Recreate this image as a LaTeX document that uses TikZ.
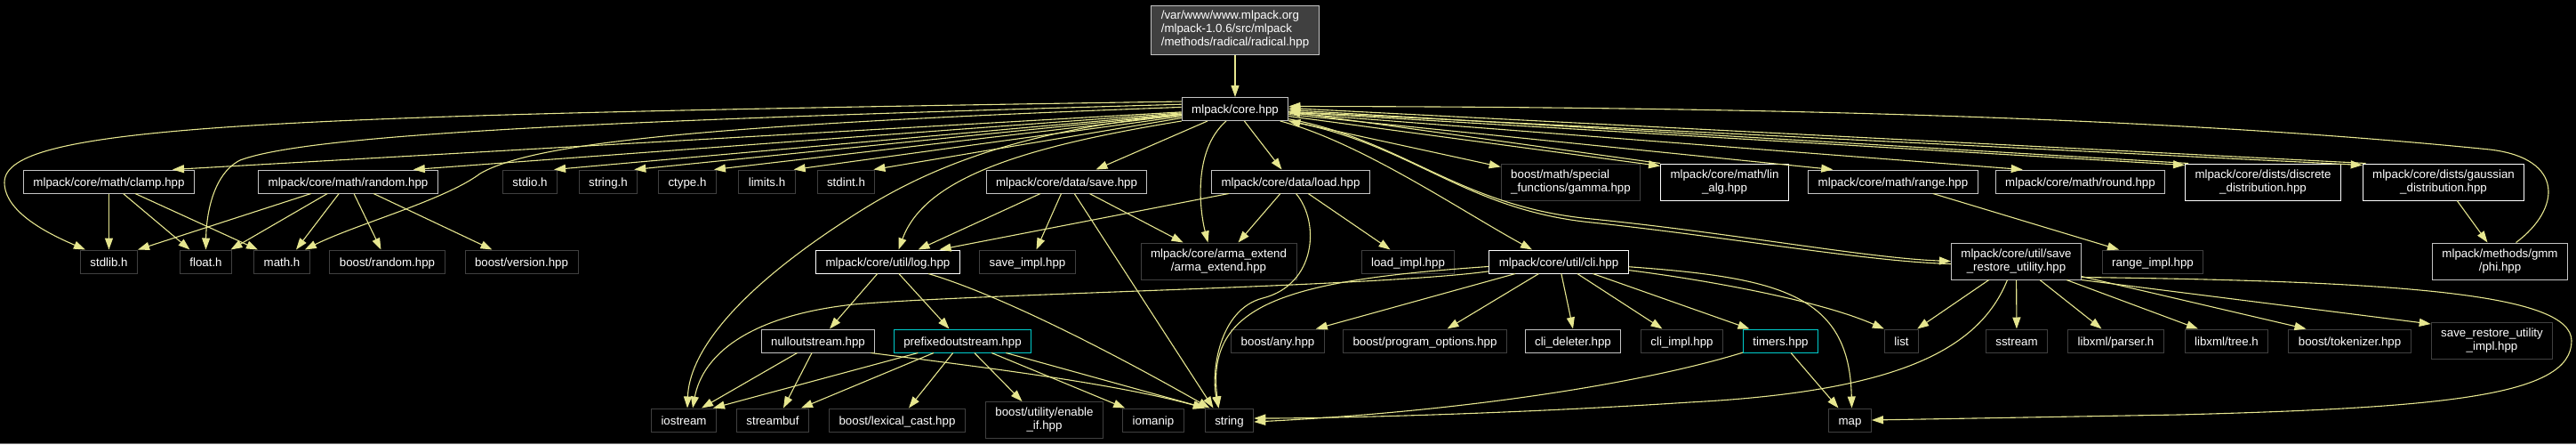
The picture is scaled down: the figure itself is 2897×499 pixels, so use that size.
\documentclass[tikz,border=0pt]{standalone}
\usepackage{fontspec}
\setmainfont{Liberation Sans}
\usepackage{tikz}
\usetikzlibrary{arrows.meta}
\definecolor{edgecol}{RGB}{230,230,143}
\definecolor{extline}{RGB}{64,64,64}
\definecolor{docline}{RGB}{196,196,196}
\definecolor{rootfill}{RGB}{64,64,64}
\definecolor{truncline}{RGB}{0,204,204}
\newcommand{\graphfont}{\fontsize{13.3pt}{15pt}\selectfont}

\begin{document}
\begin{tikzpicture}[
  x=1pt, y=-1pt,
  box/.style={fill=black, text=white, font=\graphfont, inner xsep=11pt, inner ysep=2pt, line width=1pt},
  ext/.style={box, draw=extline, minimum height=26pt, text height=11pt, text depth=1pt},
  doc/.style={ext, draw=docline},
  docw/.style={ext, draw=white},
  cut/.style={ext, draw=truncline},
  ext2/.style={box, draw=extline, align=center, minimum height=41pt},
  doc2/.style={ext2, draw=docline},
  docw2/.style={ext2, draw=white},
  incl/.style={draw=edgecol, line width=1.1pt, -{Triangle[length=13pt,width=9pt]}}
]
\fill[black] (0,0) rectangle (2897,499);
\useasboundingbox (0,0) rectangle (2897,499);
\draw[docline!60!black, line width=1pt] (0,498.5) -- (2897,498.5);

\node[doc2, align=left, fill=rootfill, minimum height=55pt] (root) at (1389,33.5) {/var/www/www.mlpack.org\\/mlpack-1.0.6/src/mlpack\\/methods/radical/radical.hpp};
\node[doc] (core) at (1389,122.5) {mlpack/core.hpp};

\node[doc] (clamp) at (122.5,204) {mlpack/core/math/clamp.hpp};
\node[doc] (random) at (391.5,204) {mlpack/core/math/random.hpp};
\node[ext] (stdio) at (596,204) {stdio.h};
\node[ext] (stringh) at (684,204) {string.h};
\node[ext] (ctype) at (773,204) {ctype.h};
\node[ext] (limits) at (862.5,204) {limits.h};
\node[ext] (stdint) at (951.5,204) {stdint.h};
\node[doc] (save) at (1199.5,204) {mlpack/core/data/save.hpp};
\node[doc] (load) at (1451.5,204) {mlpack/core/data/load.hpp};
\node[ext2, align=left] (gamma) at (1766.5,204.5) {boost/math/special\\\_functions/gamma.hpp};
\node[docw2] (linalg) at (1939.5,204.5) {mlpack/core/math/lin\\\_alg.hpp};
\node[doc] (range) at (2129,204) {mlpack/core/math/range.hpp};
\node[doc] (round) at (2339.5,204) {mlpack/core/math/round.hpp};
\node[docw2] (discrete) at (2545,204.5) {mlpack/core/dists/discrete\\\_distribution.hpp};
\node[docw2] (gaussian) at (2748,204.5) {mlpack/core/dists/gaussian\\\_distribution.hpp};

\node[ext] (stdlib) at (122.5,294) {stdlib.h};
\node[ext] (floath) at (231.5,294) {float.h};
\node[ext] (mathh) at (317,294) {math.h};
\node[ext] (brandom) at (435.5,294) {boost/random.hpp};
\node[ext] (bversion) at (586.5,294) {boost/version.hpp};
\node[docw] (log) at (998.5,294) {mlpack/core/util/log.hpp};
\node[ext] (saveimpl) at (1155.5,294) {save\_impl.hpp};
\node[ext2] (arma) at (1370.5,293.5) {mlpack/core/arma\_extend\\/arma\_extend.hpp};
\node[ext] (loadimpl) at (1583.5,294) {load\_impl.hpp};
\node[docw] (cli) at (1753,294) {mlpack/core/util/cli.hpp};
\node[doc2] (srutil) at (2267.5,293.5) {mlpack/core/util/save\\\_restore\_utility.hpp};
\node[ext] (rangeimpl) at (2421,294) {range\_impl.hpp};
\node[doc2] (phi) at (2811.5,293.5) {mlpack/methods/gmm\\/phi.hpp};

\node[doc] (nullout) at (920,383) {nulloutstream.hpp};
\node[cut] (prefixed) at (1082.5,383) {prefixedoutstream.hpp};
\node[ext] (bany) at (1437,383) {boost/any.hpp};
\node[ext] (progopts) at (1602.5,383) {boost/program\_options.hpp};
\node[doc] (clidel) at (1769,383) {cli\_deleter.hpp};
\node[ext] (cliimpl) at (1891.5,383) {cli\_impl.hpp};
\node[cut] (timers) at (2002.5,383) {timers.hpp};
\node[ext] (list) at (2138.5,383) {list};
\node[ext] (sstream) at (2268,383) {sstream};
\node[ext] (parser) at (2379.5,383) {libxml/parser.h};
\node[ext] (tree) at (2504,383) {libxml/tree.h};
\node[ext] (tokenizer) at (2642.5,383) {boost/tokenizer.hpp};
\node[ext2] (srimpl) at (2802.5,383) {save\_restore\_utility\\\_impl.hpp};

\node[ext] (iostream) at (769,472) {iostream};
\node[ext] (streambuf) at (869,472) {streambuf};
\node[ext] (lexcast) at (1009,472) {boost/lexical\_cast.hpp};
\node[ext2] (enableif) at (1174.5,472) {boost/utility/enable\\\_if.hpp};
\node[ext] (iomanip) at (1297,472) {iomanip};
\node[ext] (string) at (1382.5,472) {string};
\node[ext] (map) at (2080.5,472) {map};

\draw[incl] (root) -- (core);
\draw[incl] (core) -- ([xshift=-25pt]clamp.north east);
\draw[incl] (core) -- ([xshift=-28pt]random.north east);
\draw[incl] (core) -- ([xshift=-4pt]stdio.north east);
\draw[incl] (core) -- ([xshift=-4pt]stringh.north east);
\draw[incl] (core) -- ([xshift=-3pt]ctype.north east);
\draw[incl] (core) -- ([xshift=-2pt]limits.north east);
\draw[incl] (core) -- ([xshift=-2pt]stdint.north east);
\draw[incl] (core.172) .. controls (300,130) and (5,140) .. (5,205) .. controls (5,240) and (60,265) .. ([xshift=6pt]stdlib.north west);
\draw[incl] (core.175) .. controls (700,135) and (350,150) .. (270,180) .. controls (240,195) and (232,240) .. (floath.north);
\draw[incl] (core.178) .. controls (800,140) and (600,160) .. (540,195) .. controls (500,225) and (400,252) .. ([xshift=-6pt]mathh.north east);
\draw[incl] (core.south west) .. controls (1150,165) and (1040,200) .. ([xshift=12pt]log.north);
\draw[incl] (core.186) .. controls (1100,150) and (1000,215) .. (940,255) .. controls (820,335) and (775,400) .. ([xshift=4pt]iostream.north);
\draw[incl] (core) -- ([xshift=33pt]save.north);
\draw[incl] (core) -- ([xshift=-10pt]load.north);
\draw[incl] ([xshift=-10pt]core.south) .. controls (1340,170) and (1350,240) .. ([xshift=-12pt]arma.north);
\draw[incl] (core) -- ([yshift=-4pt]gamma.north west);
\draw[incl] (core) -- ([yshift=-3pt]linalg.north west);
\draw[incl] (linalg.north west) -- ([yshift=-3pt]core.east);
\draw[incl] (core) -- ([xshift=28pt]range.north west);
\draw[incl] (core) -- ([xshift=31pt]round.north west);
\draw[incl] (core) -- ([yshift=-2pt]discrete.north west);
\draw[incl] ([xshift=4pt]discrete.north west) -- ([yshift=-1pt]core.east);
\draw[incl] (core) -- ([yshift=-2pt]gaussian.north west);
\draw[incl] ([xshift=4pt]gaussian.north west) -- ([yshift=1pt]core.east);
\draw[incl] ([xshift=18pt]phi.north) .. controls (2880,235) and (2885,178) .. (2800,168) .. controls (2400,128) and (1900,120) .. ([yshift=3pt]core.east);
\draw[incl] (core) .. controls (1530,160) and (1640,235) .. ([xshift=-30pt]cli.north);
\draw[incl] (core) .. controls (1580,158) and (1640,232) .. (1790,246) .. controls (1950,262) and (2100,290) .. (srutil.west);
\draw[incl] ([yshift=-3pt]srutil.west) .. controls (2100,294) and (1950,267) .. (1790,250) .. controls (1650,236) and (1590,165) .. (core.south east);

\draw[incl] (clamp) -- (stdlib);
\draw[incl] (clamp) -- ([xshift=-18pt]floath.north);
\draw[incl] (clamp) -- ([xshift=-27pt]mathh.north);
\draw[incl] (random) -- (stdlib.north east);
\draw[incl] (random) -- ([xshift=28pt]floath.north);
\draw[incl] (random) -- ([xshift=16pt]mathh.north);
\draw[incl] (random) -- ([xshift=-7pt]brandom.north);
\draw[incl] (random) -- ([xshift=-33pt]bversion.north);

\draw[incl] (save) -- ([xshift=34pt]log.north);
\draw[incl] (save) -- ([xshift=10pt]saveimpl.north);
\draw[incl] (save) -- ([xshift=-40pt]arma.north);
\draw[incl] (save) -- ([xshift=-18pt]string.north);
\draw[incl] (load) -- ([xshift=58pt]log.north);
\draw[incl] (load) -- ([xshift=22pt]arma.north);
\draw[incl] (load) -- ([xshift=-20pt]loadimpl.north);
\draw[incl] ([xshift=6pt]load.south) .. controls (1485,250) and (1480,320) .. (1420,335) .. controls (1370,348) and (1362,420) .. ([xshift=-12pt]string.north);

\draw[incl] (log) -- ([xshift=13pt]nullout.north);
\draw[incl] (log) -- ([xshift=-15pt]prefixed.north);
\draw[incl] (log) .. controls (1120,330) and (1240,390) .. ([xshift=-22pt]string.north);
\draw[incl] (nullout) -- ([xshift=20pt]iostream.north);
\draw[incl] (nullout) -- ([xshift=12pt]streambuf.north);
\draw[incl] ([xshift=-5pt]nullout.south east) .. controls (1100,412) and (1250,430) .. (string.north west);
\draw[incl] (prefixed) -- ([xshift=-4pt]iostream.north east);
\draw[incl] (prefixed) -- ([xshift=32pt]streambuf.north);
\draw[incl] (prefixed) -- ([xshift=13pt]lexcast.north);
\draw[incl] (prefixed) -- ([xshift=-25pt]enableif.north);
\draw[incl] (prefixed) -- ([xshift=3pt]iomanip.north west);
\draw[incl] (prefixed) -- ([xshift=1pt]string.north west);

\draw[incl] (cli) -- ([xshift=-10pt]bany.north east);
\draw[incl] (cli) -- ([xshift=25pt]progopts.north);
\draw[incl] (cli) -- (clidel.north);
\draw[incl] (cli) -- ([xshift=-22pt]cliimpl.north);
\draw[incl] (cli) -- ([xshift=-35pt]timers.north);
\draw[incl] (cli) .. controls (1900,312) and (2040,335) .. (list.north west);
\draw[incl] (cli) .. controls (2000,312) and (2080,330) .. ([xshift=2pt]map.north);
\draw[incl] (cli) .. controls (1550,322) and (1100,330) .. (960,342) .. controls (840,355) and (790,400) .. ([xshift=10pt]iostream.north);
\draw[incl] (cli) .. controls (1450,315) and (1355,340) .. ([xshift=-12pt]string.north);
\draw[incl] (timers) -- ([xshift=-13pt]map.north);
\draw[incl] (timers) .. controls (1850,430) and (1650,462) .. ([yshift=-2pt]string.east);

\draw[incl] (srutil) -- ([xshift=-2pt]list.north east);
\draw[incl] (srutil) -- (sstream);
\draw[incl] (srutil) -- ([xshift=-16pt]parser.north);
\draw[incl] (srutil) -- ([xshift=-32pt]tree.north);
\draw[incl] (srutil) -- ([xshift=-49pt]tokenizer.north);
\draw[incl] (srutil.south east) -- ([yshift=-2pt]srimpl.north west);
\draw[incl] ([yshift=3pt]srutil.south east) .. controls (2700,316) and (2892,330) .. (2892,383) .. controls (2892,445) and (2750,458) .. (2450,466) -- (map.east);
\draw[incl] ([xshift=-10pt]srutil.south) .. controls (2225,395) and (2130,440) .. (1900,452) .. controls (1700,465) and (1500,470) .. ([yshift=2pt]string.east);
\draw[incl] (range) -- ([xshift=-38pt]rangeimpl.north);
\draw[incl] (gaussian) -- ([xshift=-14pt]phi.north);
\end{tikzpicture}
\end{document}
